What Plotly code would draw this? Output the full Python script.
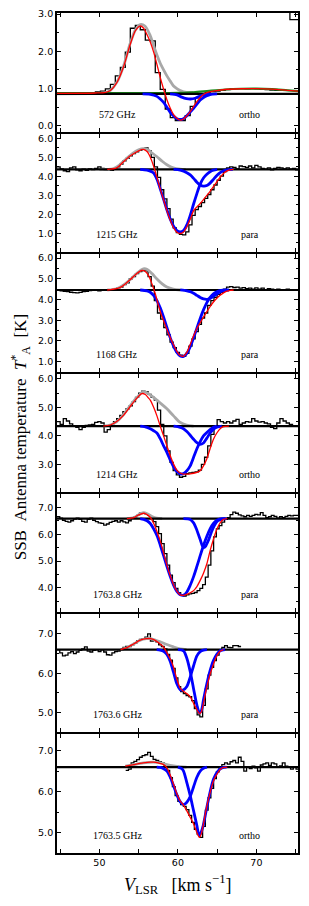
import plotly.graph_objects as go
from plotly.subplots import make_subplots

# ---------------- axes / labels ----------------
X_RANGE = [44.6, 75.3]
X_LABELED_TICKS = [50, 60, 70]

FREQ = ["572 GHz", "1215 GHz", "1168 GHz", "1214 GHz", "1763.8 GHz", "1763.6 GHz", "1763.5 GHz"]
SPIN = ["ortho", "para", "para", "ortho", "para", "para", "ortho"]
BASE = [0.855, 4.37, 4.46, 4.34, 6.58, 6.60, 6.60]
YRANGE = [[-0.17, 3.03], [0.02, 6.24], [0.5, 6.2], [2.03, 6.17], [3.1, 7.5], [4.5, 7.51], [4.5, 7.41]]

# ---------------- observed spectra (channel left edges / values) ----------------
spec1_v = [44.41, 45.05, 45.68, 46.32, 46.95, 47.59, 48.22, 48.86, 49.49, 50.13, 50.76, 51.40,
           52.03, 52.67, 53.30, 53.94, 54.58, 55.21, 55.85, 56.48, 57.12, 57.75, 58.39, 59.03,
           59.67, 60.30, 60.94, 61.57, 62.21, 62.84, 63.48, 64.11, 64.75, 65.38, 66.02, 66.65,
           67.29, 67.92, 68.56, 69.19, 69.83, 70.46, 71.10, 71.73, 72.37, 73.00, 73.64,
           73.64, 73.64, 74.27, 74.91, 75.54]
spec1_t = [0.86, 0.86, 0.86, 0.86, 0.87, 0.87, 0.88, 0.89, 0.91, 0.93, 0.99, 1.11,
           1.34, 1.57, 1.98, 2.62, 2.70, 2.58, 2.30, 2.28, 1.43, 0.98, 0.45, 0.22,
           0.14, 0.14, 0.27, 0.52, 0.75, 0.86, 0.90, 0.92, 0.93, 0.95, 0.97, 0.99,
           1.00, 1.00, 0.99, 1.00, 0.99, 0.98, 0.97, 0.96, 0.95, 0.95, 0.95,
           None, 3.50, 2.85, 2.85, 2.85]

spec2_v0, spec2_dv = 44.6, 0.4
spec2_t = [4.50, 4.40, 4.30, 4.25, 4.45, 4.50, 4.35, 4.30, 4.38, 4.32, 4.40, 4.36, 4.42, 4.50,
           4.42, 4.35, 4.38, 4.32, 4.40, 4.50, 4.65, 4.82, 4.95, 5.08, 5.20, 5.30, 5.38, 5.45,
           5.50, 5.35, 5.00, 4.50, 3.95, 3.30, 2.82, 2.31, 1.75, 1.30, 1.05, 0.95, 0.93, 1.08,
           1.45, 1.95, 2.25, 2.42, 2.62, 2.85, 3.05, 3.30, 3.55, 3.80, 4.02, 4.25, 4.45, 4.50,
           4.48, 4.40, 4.55, 4.52, 4.48, 4.55, 4.45, 4.58, 4.50, 4.42, 4.38, 4.45, 4.35, 4.42,
           4.48, 4.45, 4.40, 4.45, 4.38, 4.42, 4.35]

spec3_v0, spec3_dv = 44.6, 0.4
spec3_t = [4.45, 4.42, 4.40, 4.38, 4.35, 4.33, 4.32, 4.34, 4.38, 4.40, 4.43, 4.44, 4.46, 4.42,
           4.46, 4.45, 4.44, 4.48, 4.50, 4.55, 4.60, 4.72, 4.80, 5.00, 5.10, 5.25, 5.35, 5.40,
           5.38, 5.10, 4.65, 3.95, 3.35, 3.05, 2.65, 2.30, 1.95, 1.68, 1.45, 1.32, 1.26, 1.40,
           1.75, 2.10, 2.45, 2.80, 3.10, 3.35, 3.72, 3.95, 4.10, 4.25, 4.35, 4.50, 4.60, 4.62,
           4.58, 4.60, 4.55, 4.57, 4.52, 4.55, 4.50, 4.56, 4.50, 4.55, 4.48, 4.52, 4.50, 4.47,
           4.50, 4.48, 4.46, 4.50, 4.48, 4.47, 4.46]

spec4_v0, spec4_dv = 44.6, 0.4
spec4_t = [4.50, 4.40, 4.60, 4.52, 4.42, 4.36, 4.30, 4.22, 4.30, 4.37, 4.38, 4.40, 4.47, 4.50,
           4.45, 4.13, 4.22, 4.35, 4.50, 4.60, 4.72, 4.85, 4.95, 5.05, 5.20, 5.35, 5.50, 5.57,
           5.55, 5.45, 5.35, 5.25, 4.90, 4.40, 4.00, 3.47, 3.07, 2.78, 2.63, 2.55, 2.58, 2.68,
           2.70, 2.72, 2.74, 2.80, 3.00, 3.25, 3.65, 4.05, 4.35, 4.57, 4.50, 4.45, 4.50, 4.45,
           4.52, 4.58, 4.40, 4.45, 4.50, 4.48, 4.60, 4.52, 4.48, 4.50, 4.45, 4.42, 4.30, 4.25,
           4.45, 4.60, 4.52, 4.45, 4.40, 4.36, 4.35]

spec5_v0, spec5_dv = 44.6, 0.35
spec5_t = [6.65, 6.60, 6.52, 6.48, 6.45, 6.50, 6.56, 6.60, 6.55, 6.48, 6.45, 6.55, 6.60, 6.52,
           6.47, 6.42, 6.40, 6.34, 6.38, 6.44, 6.48, 6.50, 6.45, 6.50, 6.46, 6.42, 6.50, 6.60,
           6.65, 6.70, 6.78, 6.80, 6.76, 6.70, 6.60, 6.47, 6.28, 6.02, 5.65, 5.28, 4.85, 4.48,
           4.20, 3.98, 3.82, 3.72, 3.70, 3.74, 3.78, 3.80, 3.83, 3.90, 3.98, 4.12, 4.40, 4.85,
           5.38, 5.90, 6.20, 6.32, 6.45, 6.55, 6.62, 6.73, 6.82, 6.78, 6.72, 6.68, 6.65, 6.70,
           6.66, 6.70, 6.74, 6.72, 6.80, 6.70, 6.62, 6.65, 6.70, 6.66, 6.60, 6.65, 6.62, 6.66,
           6.70, 6.68, 6.70, 6.70]

spec6_v0, spec6_dv = 44.6, 0.35
spec6_t = [6.60, 6.52, 6.44, 6.46, 6.52, 6.55, 6.50, 6.54, 6.58, 6.62, 6.67, 6.56, 6.54, 6.58,
           6.60, 6.55, 6.60, 6.54, 6.47, 6.46, 6.52, 6.55, 6.56, 6.60, 6.66, 6.68, 6.68, 6.72,
           6.76, 6.82, 6.86, 6.88, 6.92, 7.00, 6.82, 6.83, 6.80, 6.72, 6.68, 6.62, 6.48, 6.33,
           6.12, 5.88, 5.66, 5.53, 5.48, 5.43, 5.40, 5.30, 5.10, 4.94, 4.89, 5.18, 5.60, 5.95,
           6.15, 6.32, 6.46, 6.58, 6.66, 6.70, 6.66, 6.65, 6.70, 6.70, 6.68]

spec7_v0, spec7_dv = 53.35, 0.35
spec7_t = [6.52, 6.55, 6.70, 6.74, 6.78, 6.84, 6.88, 6.90, 6.96, 6.86, 6.79, 6.76, 6.73, 6.70,
           6.64, 6.52, 6.34, 6.12, 5.90, 5.76, 5.68, 5.64, 5.56, 5.42, 5.25, 5.08, 4.96, 4.88,
           5.15, 5.55, 5.85, 6.08, 6.32, 6.48, 6.58, 6.66, 6.70, 6.67, 6.73, 6.76, 6.70, 6.84,
           6.74, 6.50, 6.60, 6.56, 6.62, 6.58, 6.50, 6.65, 6.68, 6.70, 6.64, 6.70, 6.68, 6.60,
           6.63, 6.70, 6.62, 6.60, 6.55, 6.60, 6.55]

# ---------------- fitted model curves (velocity, temperature) ----------------
p1_gray = [(44.6, 0.86), (49.5, 0.87), (50.8, 0.89), (51.4, 0.95), (52.25, 1.18), (53.1, 1.62),
           (53.9, 2.2), (54.6, 2.58), (55.2, 2.72), (55.8, 2.68), (56.48, 2.42), (56.91, 2.15),
           (57.33, 1.9), (57.75, 1.68), (58.18, 1.5), (58.6, 1.34), (59.03, 1.2), (59.45, 1.07),
           (59.87, 1.0), (60.3, 0.95), (61.1, 0.9), (62.0, 0.9)]
p1_green = [(44.6, 0.875), (50.0, 0.875), (56.0, 0.875), (58.0, 0.877), (60.0, 0.885), (62.0, 0.9),
            (64.0, 0.94), (66.0, 0.975), (68.0, 0.995), (70.0, 1.0), (72.0, 0.985), (74.0, 0.95),
            (75.3, 0.93)]
p1_blue_a = [(55.5, 0.855), (56.48, 0.845), (57.33, 0.79), (57.75, 0.72), (58.18, 0.63), (58.6, 0.5),
             (59.03, 0.36), (59.45, 0.26), (59.87, 0.19), (60.3, 0.17), (60.72, 0.19), (61.14, 0.27),
             (61.57, 0.37), (62.0, 0.47), (62.42, 0.58), (62.84, 0.69), (63.26, 0.76), (63.69, 0.81),
             (64.1, 0.84), (65.0, 0.855)]
p1_blue_b = [(59.0, 0.855), (59.9, 0.83), (60.5, 0.77), (61.1, 0.73), (61.6, 0.72), (62.2, 0.74),
             (62.8, 0.8), (63.5, 0.845), (64.2, 0.855)]
p1_red = [(44.6, 0.87), (49.5, 0.88), (50.8, 0.9), (51.4, 0.95), (52.25, 1.17), (53.1, 1.6),
          (53.9, 2.17), (54.6, 2.56), (55.2, 2.68), (55.64, 2.62), (56.06, 2.45), (56.48, 2.25),
          (56.91, 1.98), (57.33, 1.65), (57.75, 1.3), (58.18, 0.98), (58.6, 0.7), (59.03, 0.47),
          (59.45, 0.3), (59.87, 0.2), (60.3, 0.15), (60.72, 0.18), (61.14, 0.27), (61.57, 0.38),
          (62.0, 0.52), (62.42, 0.65), (62.84, 0.76), (63.26, 0.84), (63.7, 0.89), (64.5, 0.93),
          (66.0, 0.975), (68.0, 0.995), (70.0, 1.0), (72.0, 0.985), (74.0, 0.95), (75.3, 0.93)]

p2_gray = [(50.0, 4.37), (51.8, 4.42), (52.6, 4.62), (53.4, 4.92), (54.2, 5.2), (55.0, 5.4),
           (55.6, 5.47), (56.2, 5.4), (56.5, 5.3), (57.3, 5.05), (58.0, 4.8), (58.6, 4.62),
           (59.4, 4.45), (60.3, 4.38), (61.0, 4.37)]
p2_blue_a = [(55.2, 4.37), (56.06, 4.33), (56.48, 4.28), (56.91, 4.18), (57.33, 3.85), (57.75, 3.35),
             (58.18, 2.8), (58.6, 2.25), (59.03, 1.75), (59.45, 1.38), (59.87, 1.15), (60.3, 1.08),
             (60.72, 1.15), (61.14, 1.45), (61.57, 1.95), (62.0, 2.55), (62.42, 3.1), (62.84, 3.6),
             (63.26, 3.92), (63.69, 4.12), (64.1, 4.25), (64.53, 4.33), (65.0, 4.37)]
p2_blue_b = [(59.45, 4.37), (60.3, 4.33), (61.14, 4.2), (61.57, 4.08), (62.0, 3.9), (62.42, 3.7),
             (62.84, 3.55), (63.26, 3.49), (63.69, 3.52), (64.1, 3.65), (64.53, 3.85), (64.96, 4.05),
             (65.38, 4.2), (65.81, 4.3), (66.23, 4.35), (67.0, 4.37)]
p2_red = [(51.0, 4.37), (52.2, 4.45), (53.0, 4.75), (54.0, 5.1), (55.0, 5.35), (55.6, 5.42),
          (56.1, 5.3), (56.5, 5.0), (56.9, 4.55), (57.3, 4.0), (57.75, 3.35), (58.2, 2.75),
          (58.6, 2.2), (59.03, 1.7), (59.45, 1.3), (59.87, 1.07), (60.3, 1.0), (60.72, 1.08),
          (61.14, 1.35), (61.57, 1.75), (62.0, 2.2), (62.42, 2.4), (62.84, 2.58), (63.26, 2.78),
          (63.69, 3.0), (64.1, 3.22), (64.5, 3.45), (64.96, 3.72), (65.4, 3.96), (65.8, 4.15),
          (66.2, 4.28), (66.65, 4.35), (67.1, 4.37)]

p3_gray = [(51.0, 4.46), (52.2, 4.52), (53.0, 4.68), (53.9, 4.95), (54.8, 5.28), (55.6, 5.48),
           (56.1, 5.45), (56.7, 5.25), (57.3, 5.0), (58.0, 4.75), (58.6, 4.6), (59.4, 4.5), (60.3, 4.46)]
p3_blue_a = [(55.2, 4.46), (56.06, 4.42), (56.48, 4.35), (56.9, 4.2), (57.33, 3.95), (57.75, 3.6),
             (58.18, 3.15), (58.6, 2.65), (59.03, 2.15), (59.45, 1.75), (59.87, 1.45), (60.3, 1.28),
             (60.72, 1.26), (61.14, 1.4), (61.57, 1.72), (62.0, 2.15), (62.42, 2.62), (62.84, 3.08),
             (63.26, 3.5), (63.69, 3.85), (64.1, 4.1), (64.53, 4.27), (64.96, 4.37), (65.5, 4.44),
             (66.2, 4.46)]
p3_blue_b = [(60.3, 4.46), (61.14, 4.42), (61.57, 4.38), (62.0, 4.3), (62.42, 4.2), (62.84, 4.1),
             (63.26, 4.03), (63.69, 4.01), (64.1, 4.05), (64.53, 4.15), (64.96, 4.27), (65.38, 4.37),
             (65.81, 4.43), (66.5, 4.46)]
p3_red = [(51.0, 4.46), (52.2, 4.52), (53.0, 4.66), (53.9, 4.95), (54.8, 5.27), (55.4, 5.4),
          (55.85, 5.35), (56.27, 5.15), (56.7, 4.75), (57.1, 4.3), (57.5, 3.75), (57.9, 3.25),
          (58.2, 2.95), (58.6, 2.55), (59.03, 2.15), (59.45, 1.82), (59.87, 1.5), (60.3, 1.3),
          (60.72, 1.27), (61.14, 1.45), (61.57, 1.83), (62.0, 2.25), (62.42, 2.6), (62.84, 2.88),
          (63.26, 3.15), (63.69, 3.42), (64.1, 3.66), (64.53, 3.88), (64.96, 4.06), (65.38, 4.2),
          (65.81, 4.32), (66.23, 4.4), (66.65, 4.44), (67.1, 4.46)]

p4_gray = [(50.5, 4.34), (51.4, 4.38), (52.2, 4.5), (53.0, 4.72), (53.9, 5.05), (54.8, 5.35),
           (55.6, 5.55), (56.1, 5.5), (56.9, 5.35), (57.75, 5.15), (58.6, 4.95), (59.45, 4.7),
           (60.3, 4.47), (61.1, 4.38), (62.0, 4.34)]
p4_blue_a = [(55.2, 4.34), (56.06, 4.3), (56.48, 4.25), (56.91, 4.18), (57.33, 4.1), (57.75, 3.9),
             (58.18, 3.65), (58.6, 3.42), (59.03, 3.15), (59.45, 2.92), (59.87, 2.75), (60.3, 2.67),
             (60.72, 2.68), (61.14, 2.78), (61.57, 2.95), (62.0, 3.25), (62.42, 3.55), (62.84, 3.8),
             (63.26, 4.0), (63.69, 4.12), (64.1, 4.22), (64.53, 4.3), (64.96, 4.34)]
p4_blue_b = [(59.45, 4.34), (60.3, 4.3), (60.72, 4.25), (61.14, 4.15), (61.57, 4.02), (62.0, 3.88),
             (62.42, 3.76), (62.84, 3.7), (63.26, 3.75), (63.69, 3.92), (64.1, 4.1), (64.53, 4.23),
             (64.96, 4.3), (65.6, 4.34)]
p4_red = [(50.5, 4.34), (51.4, 4.38), (52.2, 4.5), (53.0, 4.7), (53.9, 5.02), (54.8, 5.33),
          (55.4, 5.48), (55.85, 5.45), (56.27, 5.32), (56.48, 5.25), (56.91, 5.0), (57.33, 4.7),
          (57.75, 4.34), (58.18, 4.0), (58.6, 3.65), (59.03, 3.3), (59.45, 3.01), (59.87, 2.8),
          (60.3, 2.7), (60.72, 2.66), (61.14, 2.66), (61.57, 2.67), (62.0, 2.69), (62.42, 2.72),
          (62.84, 2.78), (63.26, 2.95), (63.69, 3.2), (64.1, 3.55), (64.53, 3.88), (64.96, 4.1),
          (65.38, 4.25), (65.81, 4.32), (66.5, 4.34)]

p5_gray = [(53.5, 6.58), (54.4, 6.62), (55.0, 6.72), (55.6, 6.8), (56.1, 6.76), (56.7, 6.66),
           (57.3, 6.6), (58.0, 6.58)]
p5_blue_a = [(55.2, 6.58), (55.64, 6.55), (56.06, 6.5), (56.48, 6.4), (56.91, 6.2), (57.33, 5.95),
             (57.75, 5.6), (58.18, 5.2), (58.6, 4.8), (59.03, 4.42), (59.45, 4.1), (59.87, 3.87),
             (60.3, 3.75), (60.72, 3.73), (61.14, 3.85), (61.57, 4.1), (62.0, 4.42), (62.42, 4.8),
             (62.84, 5.2), (63.26, 5.58), (63.69, 5.92), (64.1, 6.2), (64.53, 6.4), (64.96, 6.52),
             (65.4, 6.57), (66.0, 6.58)]
p5_blue_b = [(60.7, 6.58), (61.57, 6.55), (62.0, 6.42), (62.42, 6.15), (62.84, 5.8), (63.1, 5.58),
             (63.3, 5.5), (63.55, 5.56), (63.9, 5.78), (64.3, 6.1), (64.7, 6.35), (65.1, 6.5),
             (65.6, 6.56), (66.2, 6.58)]
p5_red = [(53.5, 6.58), (54.4, 6.62), (55.0, 6.72), (55.7, 6.78), (56.2, 6.7), (56.6, 6.58),
          (57.0, 6.35), (57.33, 6.1), (57.75, 5.75), (58.18, 5.3), (58.6, 4.85), (59.03, 4.45),
          (59.45, 4.12), (59.87, 3.88), (60.3, 3.74), (60.72, 3.72), (61.14, 3.76), (61.57, 3.82),
          (62.0, 3.9), (62.42, 4.05), (62.84, 4.28), (63.26, 4.55), (63.69, 4.9), (64.1, 5.38),
          (64.53, 5.81), (64.96, 6.18), (65.38, 6.42), (65.81, 6.55), (66.3, 6.58)]

p6_gray = [(52.7, 6.6), (53.5, 6.65), (54.4, 6.75), (55.2, 6.84), (56.0, 6.88), (56.5, 6.88),
           (57.2, 6.84), (57.75, 6.8), (58.6, 6.73), (59.45, 6.67), (60.3, 6.62), (61.1, 6.6)]
p6_blue_a = [(57.3, 6.6), (57.75, 6.59), (58.18, 6.56), (58.6, 6.48), (59.03, 6.3), (59.45, 6.02),
             (59.87, 5.73), (60.3, 5.58), (60.72, 5.58), (61.14, 5.66), (61.57, 5.9), (62.0, 6.19),
             (62.42, 6.44), (62.84, 6.55), (63.26, 6.59), (63.7, 6.6)]
p6_blue_b = [(60.0, 6.6), (60.72, 6.57), (61.14, 6.38), (61.57, 6.04), (62.0, 5.6), (62.42, 5.19),
             (62.75, 4.99), (63.0, 5.05), (63.26, 5.32), (63.69, 5.73), (64.11, 6.07), (64.53, 6.32),
             (64.96, 6.48), (65.38, 6.57), (66.0, 6.6)]
p6_red = [(52.7, 6.6), (53.5, 6.65), (54.4, 6.75), (55.2, 6.84), (56.0, 6.88), (56.5, 6.88),
          (57.0, 6.85), (57.5, 6.78), (58.18, 6.66), (58.6, 6.52), (59.03, 6.36), (59.45, 6.15),
          (59.87, 5.85), (60.3, 5.62), (60.72, 5.54), (61.14, 5.48), (61.57, 5.4), (62.0, 5.23),
          (62.42, 5.07), (62.75, 4.97), (63.0, 5.02), (63.26, 5.24), (63.69, 5.65), (64.11, 5.98),
          (64.53, 6.23), (64.96, 6.44), (65.38, 6.56), (65.81, 6.6)]

p7_gray = [(53.3, 6.62), (54.4, 6.66), (55.6, 6.7), (56.9, 6.72), (57.75, 6.7), (58.6, 6.66),
           (59.45, 6.63), (60.3, 6.61), (61.1, 6.6)]
p7_blue_a = [(57.3, 6.6), (57.75, 6.59), (58.18, 6.56), (58.6, 6.5), (59.03, 6.35), (59.45, 6.14),
             (59.87, 5.92), (60.3, 5.75), (60.72, 5.68), (61.14, 5.74), (61.57, 5.88), (62.0, 6.12),
             (62.42, 6.35), (62.84, 6.5), (63.26, 6.57), (63.7, 6.6)]
p7_blue_b = [(60.0, 6.6), (60.5, 6.56), (60.72, 6.5), (61.14, 6.22), (61.57, 5.9), (62.0, 5.53),
             (62.42, 5.17), (62.7, 4.93), (62.9, 4.98), (63.2, 5.15), (63.6, 5.53), (64.0, 5.9),
             (64.53, 6.3), (65.1, 6.5), (65.6, 6.58), (66.2, 6.6)]
p7_red = [(53.3, 6.62), (54.4, 6.66), (55.6, 6.7), (56.5, 6.72), (56.9, 6.72), (57.5, 6.7),
          (58.18, 6.66), (58.6, 6.58), (59.03, 6.4), (59.45, 6.18), (59.87, 5.95), (60.3, 5.77),
          (60.72, 5.67), (61.14, 5.53), (61.57, 5.37), (62.0, 5.21), (62.42, 5.0), (62.75, 4.88),
          (63.0, 4.98), (63.26, 5.21), (63.69, 5.65), (64.11, 5.98), (64.53, 6.26), (64.96, 6.42),
          (65.38, 6.54), (65.81, 6.59), (66.3, 6.6)]

# ---------------- assemble ----------------
def grid(v0, dv, vals):
    xs = [v0 + dv * i for i in range(len(vals) + 1)]
    ys = list(vals) + [vals[-1]]
    return xs, ys

spectra = [
    (spec1_v, spec1_t),
    grid(spec2_v0, spec2_dv, spec2_t),
    grid(spec3_v0, spec3_dv, spec3_t),
    grid(spec4_v0, spec4_dv, spec4_t),
    grid(spec5_v0, spec5_dv, spec5_t),
    grid(spec6_v0, spec6_dv, spec6_t),
    grid(spec7_v0, spec7_dv, spec7_t),
]
grays = [p1_gray, p2_gray, p3_gray, p4_gray, p5_gray, p6_gray, p7_gray]
blues = [(p1_blue_a, p1_blue_b), (p2_blue_a, p2_blue_b), (p3_blue_a, p3_blue_b),
         (p4_blue_a, p4_blue_b), (p5_blue_a, p5_blue_b), (p6_blue_a, p6_blue_b),
         (p7_blue_a, p7_blue_b)]
reds = [p1_red, p2_red, p3_red, p4_red, p5_red, p6_red, p7_red]

N = 7
# the page body has an 8 px margin, so the figure is sized to fit inside it
W, H = 293, 890
M_L, M_R, M_T, M_B = 49, 3, 5, 45
PLOT_H = H - M_T - M_B
PANEL_H = PLOT_H / N
AX_LW = 1.8

fig = make_subplots(rows=N, cols=1, shared_xaxes=True, vertical_spacing=0)


def curve(pts, color, width, row):
    fig.add_trace(go.Scatter(x=[p[0] for p in pts], y=[p[1] for p in pts], mode="lines",
                             line=dict(color=color, width=width, shape="spline", smoothing=0.8),
                             showlegend=False, hoverinfo="skip"), row=row, col=1)


def to_paper(px_from_top):
    return (PLOT_H - px_from_top) / PLOT_H


for k in range(N):
    r = k + 1
    top_px = (r - 1) * PANEL_H + (AX_LW / 2 if r > 1 else 0)
    bot_px = r * PANEL_H - (AX_LW / 2 if r < N else 0)
    dom = [to_paper(bot_px), to_paper(top_px)]

    sx, sy = spectra[k]
    fig.add_trace(go.Scatter(x=sx, y=sy, mode="lines", connectgaps=False,
                             line=dict(color="black", width=1.3, shape="hv"),
                             showlegend=False, hoverinfo="skip"), row=r, col=1)
    curve(grays[k], "#a8a8a8", 2.8, r)
    if k == 0:
        curve(p1_green, "#1a8c1a", 2.2, r)
    fig.add_trace(go.Scatter(x=X_RANGE, y=[BASE[k], BASE[k]], mode="lines",
                             line=dict(color="black", width=2.2),
                             showlegend=False, hoverinfo="skip"), row=r, col=1)
    curve(blues[k][0], "#0000ff", 2.8, r)
    curve(blues[k][1], "#0000ff", 2.8, r)
    curve(reds[k], "#ff0000", 1.3, r)

    yname = "yaxis" if r == 1 else f"yaxis{r}"
    xname = "xaxis" if r == 1 else f"xaxis{r}"
    fig.layout[yname].update(
        range=YRANGE[k], domain=dom, automargin=False,
        tick0=0, dtick=1, tickformat=".1f", ticks="inside", ticklen=4, tickwidth=1,
        tickcolor="black", showline=True, linecolor="black", linewidth=AX_LW, mirror="ticks",
        showgrid=False, zeroline=False,
        minor=dict(dtick=0.5, tick0=0, ticks="inside", ticklen=2, tickcolor="black", showgrid=False),
        tickfont=dict(family="DejaVu Sans", size=9.5, color="black"))
    fig.layout[xname].update(
        range=X_RANGE, automargin=False, tickmode="array", tickvals=X_LABELED_TICKS,
        ticks="inside", ticklen=4, tickwidth=1, tickcolor="black", showline=True,
        linecolor="black", linewidth=AX_LW, mirror="ticks", showgrid=False, zeroline=False,
        minor=dict(dtick=5, tick0=0, ticks="inside", ticklen=4, tickcolor="black", showgrid=False),
        tickfont=dict(family="DejaVu Sans", size=9.5, color="black"))

    yref = "y domain" if r == 1 else f"y{r} domain"
    fig.add_annotation(x=0.249, y=0.15, xref="paper", yref=yref, text=FREQ[k], showarrow=False,
                       xanchor="center", yanchor="middle",
                       font=dict(family="Liberation Serif", size=10, color="black"))
    fig.add_annotation(x=0.80, y=0.15, xref="paper", yref=yref, text=SPIN[k], showarrow=False,
                       xanchor="center", yanchor="middle",
                       font=dict(family="Liberation Serif", size=10, color="black"))

fig.add_annotation(x=-0.153, y=0.495, xref="paper", yref="paper", textangle=-90,
                   text="SSB\u00a0\u00a0Antenna temperature\u00a0\u00a0<i>T</i><sup>*</sup><sub>A</sub>\u00a0\u00a0[K]",
                   showarrow=False, xanchor="center", yanchor="middle",
                   font=dict(family="Liberation Serif", size=17, color="black"))
fig.add_annotation(x=0.5, y=-0.038, xref="paper", yref="paper",
                   text="<i>V</i><sub>LSR</sub>\u00a0\u00a0\u00a0[km s<sup>\u22121</sup>]",
                   showarrow=False, xanchor="center", yanchor="middle",
                   font=dict(family="Liberation Serif", size=18, color="black"))

fig.update_layout(width=W, height=H, margin=dict(l=M_L, r=M_R, t=M_T, b=M_B, autoexpand=False),
                  paper_bgcolor="white", plot_bgcolor="white", showlegend=False)

fig.write_html("out.html")
